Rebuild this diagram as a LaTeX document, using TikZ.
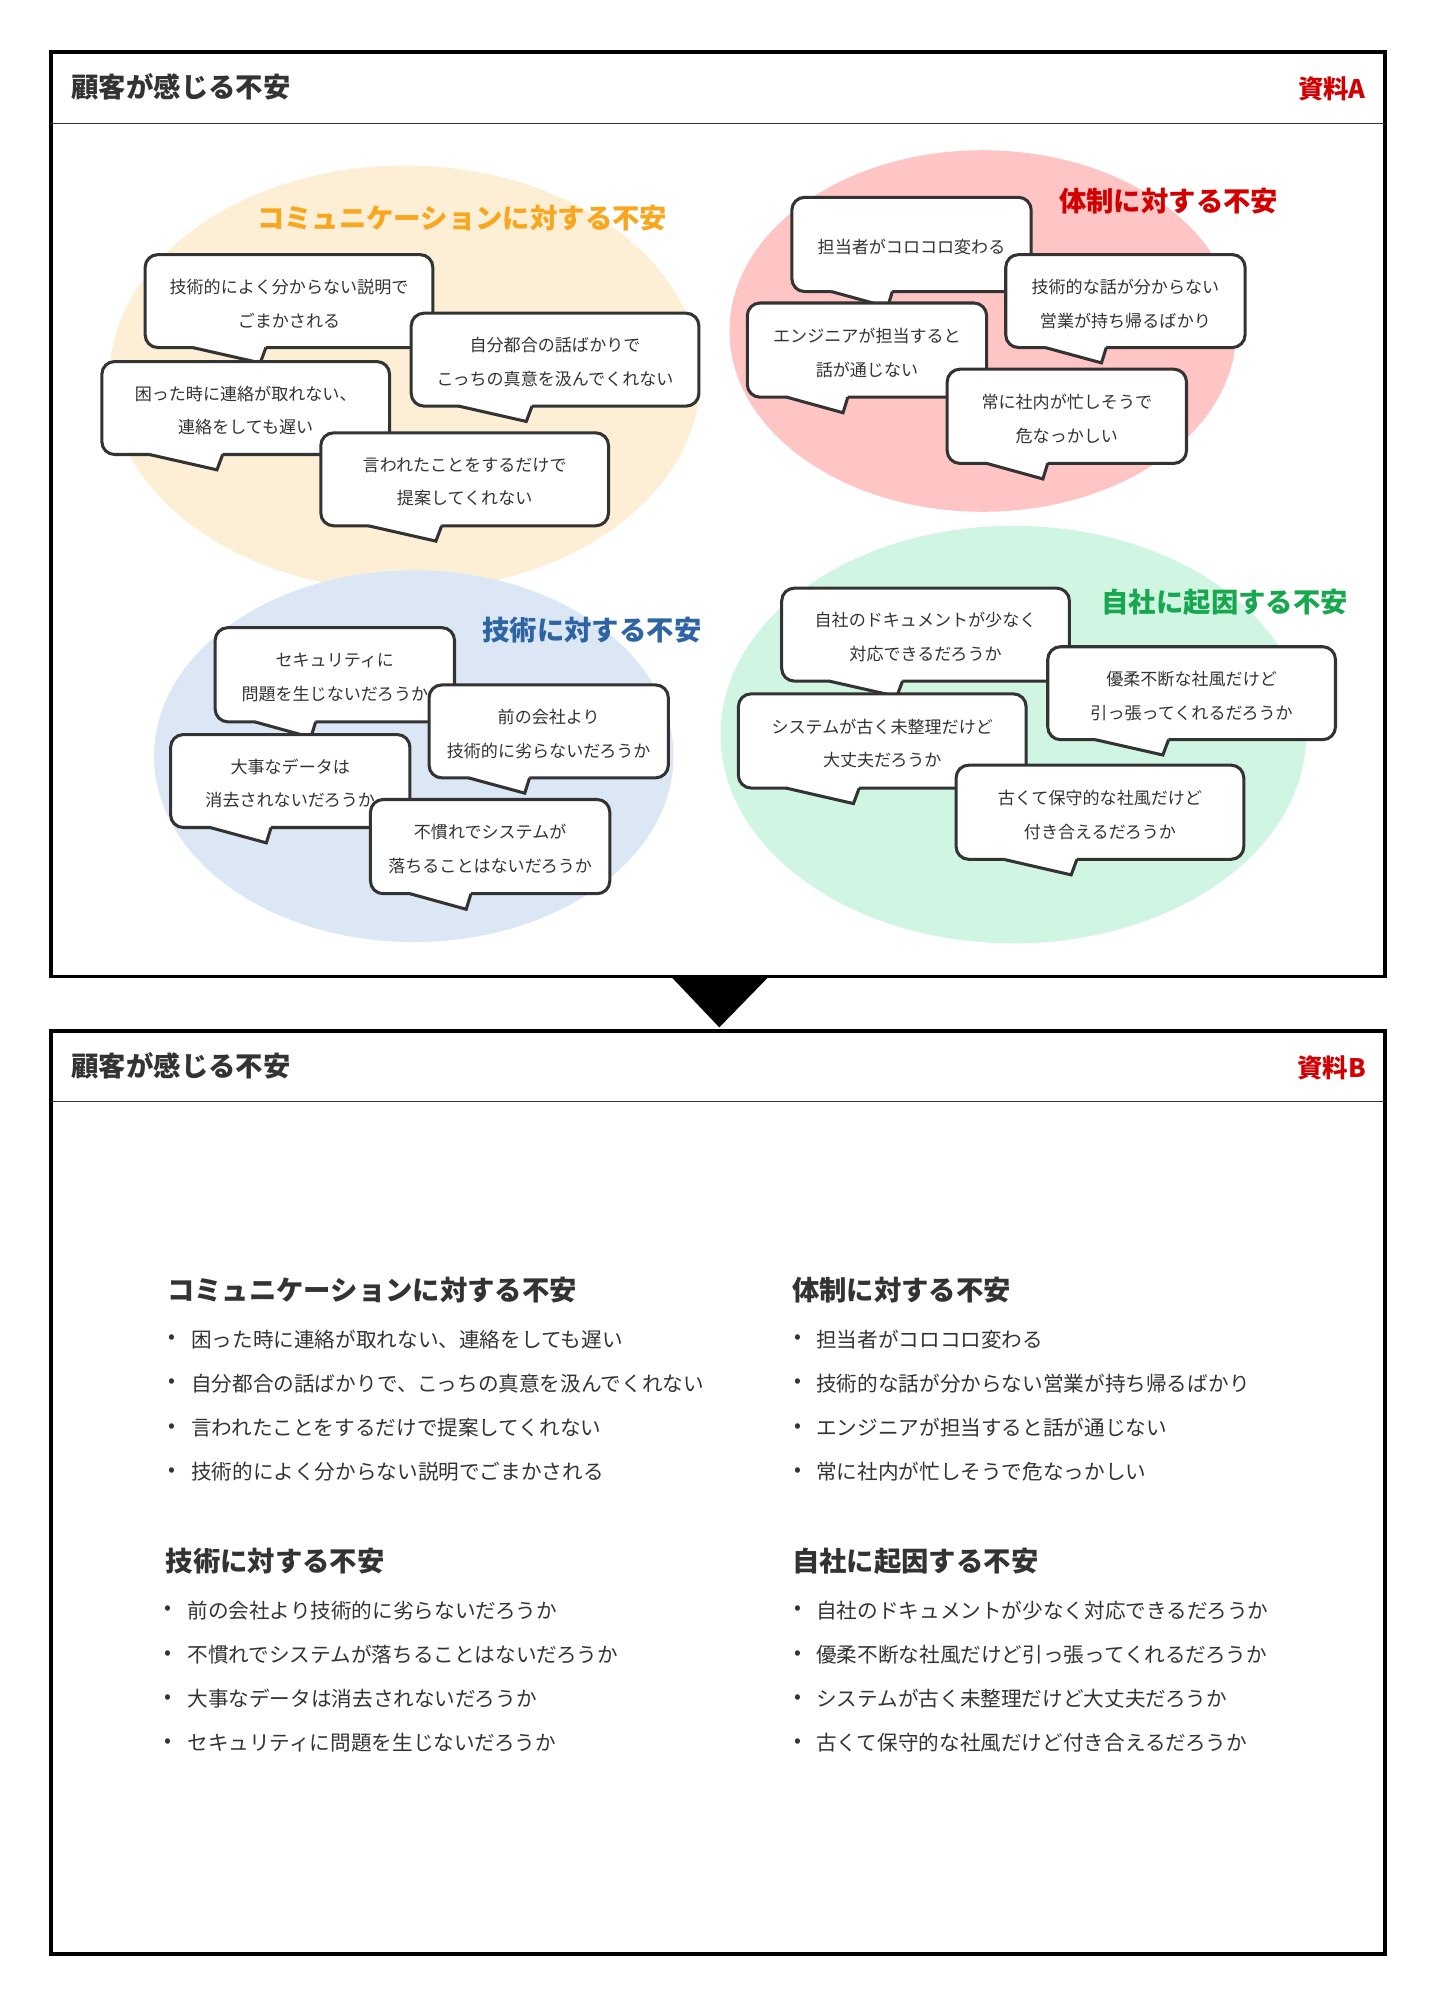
\documentclass[tikz,border=0pt]{standalone}
\usepackage{fontspec}
\setmainfont{Noto Sans CJK JP}
\usepackage{tikz}
\usetikzlibrary{calc}

\definecolor{mojiiro}{HTML}{333333}
\definecolor{akairo}{HTML}{D20000}
\definecolor{commfill}{HTML}{FDEFD5}
\definecolor{taiseifill}{HTML}{FFC5C5}
\definecolor{gijutsufill}{HTML}{DCE7F6}
\definecolor{jishafill}{HTML}{D1F5E3}
\definecolor{commiro}{HTML}{F8A61D}
\definecolor{gijutsuiro}{HTML}{2E64A2}
\definecolor{jishairo}{HTML}{17A84F}

% name, x, y, width, height, text
\newcommand{\fukidashi}[6]{%
\node[bubble, minimum width=#4pt, minimum height=#5pt, anchor=north west] (#1) at (#2,#3) {};
\coordinate (#1-a) at ($(#1.south west)!0.165!(#1.south east)$);
\coordinate (#1-b) at ($(#1.south west)!0.42!(#1.south east)$);
\coordinate (#1-tip) at ($(#1.south west)!0.40!(#1.south east)+(0,{0.165*#5})$);
\fill[white] ($(#1-a)+(1,-2.2)$) -- ($(#1-b)+(-0.5,-2.2)$) -- (#1-b) -- (#1-tip) -- (#1-a) -- cycle;
\draw[tailline] (#1-a) -- (#1-tip) -- (#1-b);
\node[bubbletext] (#1-text) at ($(#1.center)+(0,2)$) {#6};}

\begin{document}
\begin{tikzpicture}[x=1pt,y=-1pt,
  waku/.style={line width=3pt, draw=black},
  kugiri/.style={line width=1pt, draw=mojiiro},
  bubble/.style={draw=mojiiro, line width=2.4pt, fill=white, rounded corners=10pt,
    inner sep=0pt, outer sep=0pt},
  bubbletext/.style={align=center, text=mojiiro, inner sep=0pt,
    font=\fontsize{13.4}{26.5}\selectfont},
  tailline/.style={draw=mojiiro, line width=2.4pt},
  kanban/.style={font=\fontsize{21.5}{24}\selectfont\bfseries, inner sep=0pt},
  midashi/.style={font=\fontsize{21.5}{24}\selectfont\bfseries, text=mojiiro, inner sep=0pt, anchor=west},
  item/.style={font=\fontsize{16.2}{20}\selectfont, text=mojiiro, inner sep=0pt, anchor=west},
  dot/.style={font=\fontsize{16}{18}\selectfont, text=mojiiro, inner sep=0pt}]
\useasboundingbox (0,0) rectangle (1131,1571);

% upper frame
\draw[waku] (40,41) rectangle (1088,767);
\draw[kugiri] (40,97) -- (1088,97);
\node[midashi] (titleA) at (56,68) {顧客が感じる不安};
\node[kanban, text=akairo, anchor=east, font=\fontsize{20}{22}\selectfont\bfseries] (shiryoA) at (1073,70) {資料A};

% groups
\fill[commfill] (318,297) ellipse [x radius=232, y radius=167];
\fill[taiseifill] (772,260) ellipse [x radius=199, y radius=142];
\fill[gijutsufill] (325,594) ellipse [x radius=204, y radius=146];
\fill[jishafill] (796,577) ellipse [x radius=230, y radius=164];

\fukidashi{comm1}{114}{200}{226}{73}{技術的によく分からない説明で\\ごまかされる}
\fukidashi{comm2}{323}{246}{226}{73}{自分都合の話ばかりで\\こっちの真意を汲んでくれない}
\fukidashi{comm3}{80}{284}{226}{73}{困った時に連絡が取れない、\\連絡をしても遅い}
\fukidashi{comm4}{252}{340}{226}{73}{言われたことをするだけで\\提案してくれない}

\fukidashi{taisei1}{622}{155}{188}{74}{担当者がコロコロ変わる}
\fukidashi{taisei2}{790}{200}{188}{73}{技術的な話が分からない\\営業が持ち帰るばかり}
\fukidashi{taisei3}{587}{238}{188}{74}{エンジニアが担当すると\\話が通じない}
\fukidashi{taisei4}{744}{290}{188}{74}{常に社内が忙しそうで\\危なっかしい}

\fukidashi{gijutsu1}{169}{493}{188}{74}{セキュリティに\\問題を生じないだろうか}
\fukidashi{gijutsu2}{337}{538}{188}{73}{前の会社より\\技術的に劣らないだろうか}
\fukidashi{gijutsu3}{134}{577}{188}{73}{大事なデータは\\消去されないだろうか}
\fukidashi{gijutsu4}{291}{628}{188}{74}{不慣れでシステムが\\落ちることはないだろうか}

\fukidashi{jisha1}{614}{462}{226}{73}{自社のドキュメントが少なく\\対応できるだろうか}
\fukidashi{jisha2}{823}{508}{226}{73}{優柔不断な社風だけど\\引っ張ってくれるだろうか}
\fukidashi{jisha3}{580}{545}{226}{74}{システムが古く未整理だけど\\大丈夫だろうか}
\fukidashi{jisha4}{751}{601}{226}{74}{古くて保守的な社風だけど\\付き合えるだろうか}

\node[kanban, text=commiro] (commtitle) at (363,171) {コミュニケーションに対する不安};
\node[kanban, text=akairo] (taiseititle) at (918,158) {体制に対する不安};
\node[kanban, text=gijutsuiro] (gijutsutitle) at (465,495) {技術に対する不安};
\node[kanban, text=jishairo] (jishatitle) at (962,473) {自社に起因する不安};

% arrow between
\fill[black] (527,767) -- (604,767) -- (565,807) -- cycle;

% lower frame
\draw[waku] (40,810) rectangle (1088,1535);
\draw[kugiri] (40,865) -- (1088,865);
\node[midashi] (titleB) at (56,837) {顧客が感じる不安};
\node[kanban, text=akairo, anchor=east, font=\fontsize{20}{22}\selectfont\bfseries] (shiryoB) at (1073,839) {資料B};

\node[midashi] (commhead) at (131,1013) {コミュニケーションに対する不安};
\foreach \t [count=\i] in {困った時に連絡が取れない、連絡をしても遅い,
  自分都合の話ばかりで、こっちの真意を汲んでくれない,
  言われたことをするだけで提案してくれない,
  技術的によく分からない説明でごまかされる}
{\node[dot] (commdot\i) at (135,{1052+34.7*(\i-1)}) {•};
 \node[item] (commitem\i) at (150,{1052+34.7*(\i-1)}) {\t};}

\node[midashi] (taiseihead) at (622,1013) {体制に対する不安};
\foreach \t [count=\i] in {担当者がコロコロ変わる,
  技術的な話が分からない営業が持ち帰るばかり,
  エンジニアが担当すると話が通じない,
  常に社内が忙しそうで危なっかしい}
{\node[dot] (taiseidot\i) at (627,{1052+34.7*(\i-1)}) {•};
 \node[item] (taiseiitem\i) at (641,{1052+34.7*(\i-1)}) {\t};}

\node[midashi] (gijutsuhead) at (130,1226) {技術に対する不安};
\foreach \t [count=\i] in {前の会社より技術的に劣らないだろうか,
  不慣れでシステムが落ちることはないだろうか,
  大事なデータは消去されないだろうか,
  セキュリティに問題を生じないだろうか}
{\node[dot] (gijutsudot\i) at (132,{1265+34.7*(\i-1)}) {•};
 \node[item] (gijutsuitem\i) at (147,{1265+34.7*(\i-1)}) {\t};}

\node[midashi] (jishahead) at (622,1226) {自社に起因する不安};
\foreach \t [count=\i] in {自社のドキュメントが少なく対応できるだろうか,
  優柔不断な社風だけど引っ張ってくれるだろうか,
  システムが古く未整理だけど大丈夫だろうか,
  古くて保守的な社風だけど付き合えるだろうか}
{\node[dot] (jishadot\i) at (627,{1265+34.7*(\i-1)}) {•};
 \node[item] (jishaitem\i) at (641,{1265+34.7*(\i-1)}) {\t};}
\end{tikzpicture}
\end{document}
